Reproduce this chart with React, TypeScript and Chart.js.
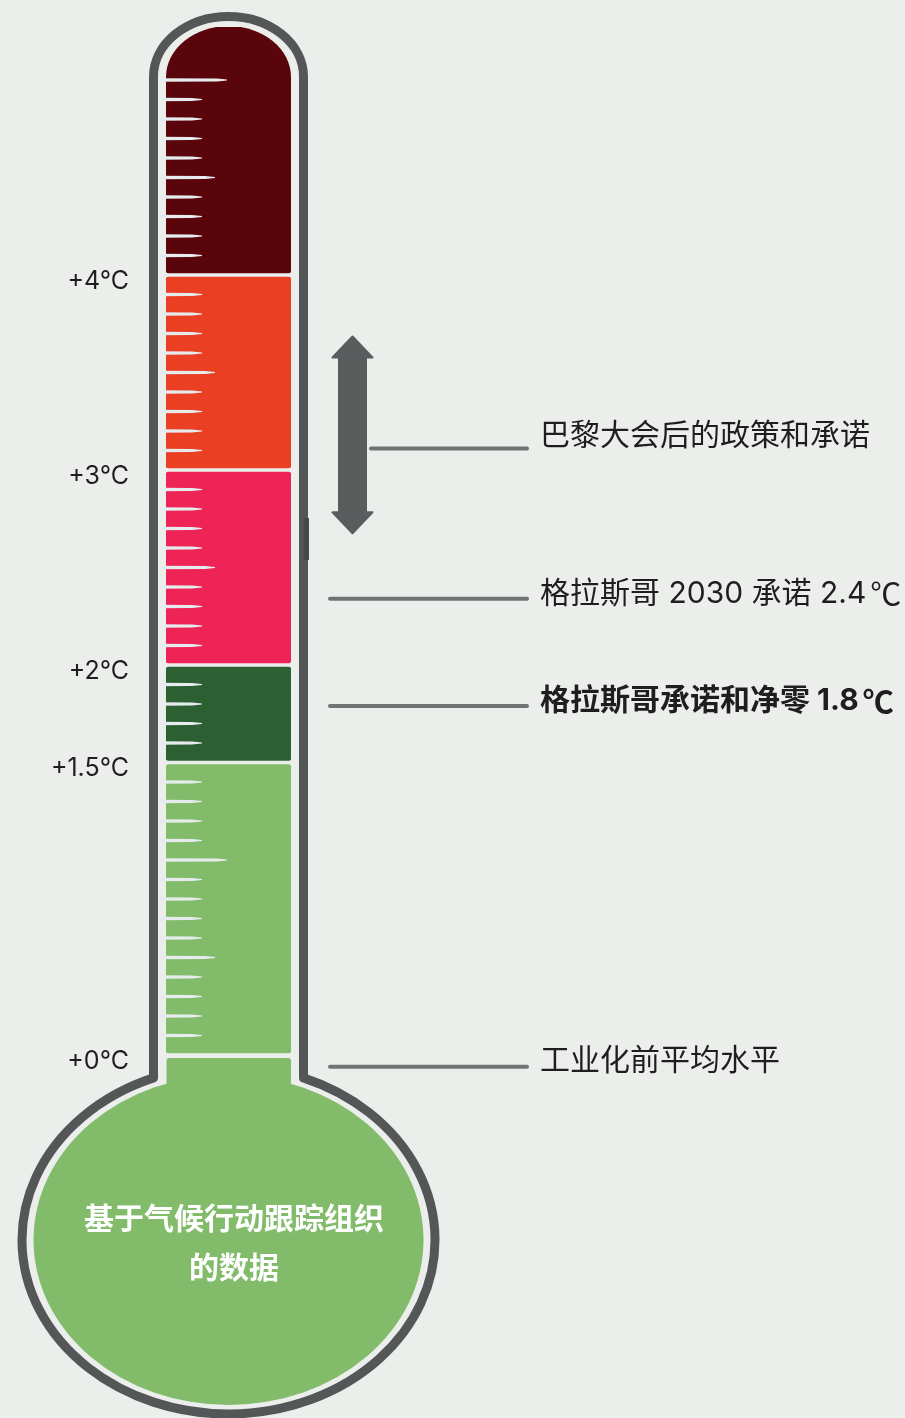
import { useEffect, useRef } from "react";
import { Chart, registerables } from "chart.js";

Chart.register(...registerables);

// ---------- data ----------
const segmentNames = ["+4°C 以上", "+3°C ~ +4°C", "+2°C ~ +3°C", "+1.5°C ~ +2°C", "+0°C ~ +1.5°C"];
const segmentLow = [4, 3, 2, 1.5, 0];
const segmentHigh = [5.28, 4, 3, 2, 1.5];
const segmentColors = ["#5A040C", "#EB3F24", "#EE2356", "#2C5F31", "#82BC6B"];

const scaleLabelValues = [4, 3, 2, 1.5, 0];
const scaleLabelTexts = ["+4°C", "+3°C", "+2°C", "+1.5°C", "+0°C"];

const minorTickStep = 0.1;
const minorTickMax = 5.0;

const noteTexts = [
  "巴黎大会后的政策和承诺",
  "格拉斯哥 2030 承诺 2.4℃",
  "格拉斯哥承诺和净零 1.8℃",
  "工业化前平均水平",
];
const noteValues = [3.11, 2.34, 1.79, -0.06];
const noteBold = [false, false, true, false];

const parisRange = [2.67, 3.69];

const bulbLines = ["基于气候行动跟踪组织", "的数据"];

// ---------- styles ----------
const BG = "#ECEEEC";
const OUTLINE = "#545658";
const ARROW = "#5B5C5E";
const LEADER = "#717375";
const TICK = "#E6ECEE";
const TEXT = "#1E1E1E";
const BULB = "#82BC6B";
const CJK = '"Noto Sans CJK SC"';
const noteDy = [-13, -5, -5, -6];

function drawRuns(ctx: CanvasRenderingContext2D, text: string, x: number, y: number, weight: string) {
  const latin = `${weight}30px Inter, ${CJK}, sans-serif`;
  const cjk = `${weight}31px ${CJK}, sans-serif`;
  const parts = text.split(/(℃)/);
  let cur = x;
  parts.forEach((part) => {
    if (!part) return;
    if (part === "℃") {
      ctx.font = cjk;
      cur += 4;
    } else {
      ctx.font = latin;
    }
    ctx.fillText(part, cur, y);
    cur += ctx.measureText(part).width;
  });
}

const thermoPlugin = {
  id: "thermo",
  beforeDraw(chart: any) {
    const ctx: CanvasRenderingContext2D = chart.ctx;
    const y = chart.scales.y;
    const bar = chart.getDatasetMeta(0).data[0];
    const cx = bar.x;
    const y0 = y.getPixelForValue(0);
    ctx.save();
    ctx.fillStyle = BG;
    ctx.fillRect(0, 0, chart.width, chart.height);

    // outline (tube + bulb)
    const wx = 75;
    const capCy = 76.5;
    const capRy = 60;
    const bcy = y0 + 185;
    const brx = 206.5;
    const bry = 174;
    const ct = Math.acos(wx / brx);
    const joinY = bcy - bry * Math.sin(ct);
    ctx.beginPath();
    ctx.moveTo(cx - wx, joinY);
    ctx.lineTo(cx - wx, capCy);
    ctx.ellipse(cx, capCy, wx, capRy, 0, Math.PI, 2 * Math.PI);
    ctx.lineTo(cx + wx, joinY);
    ctx.ellipse(cx, bcy, brx, bry, 0, -ct, Math.PI + ct);
    ctx.closePath();
    ctx.lineWidth = 9;
    ctx.lineJoin = "round";
    ctx.strokeStyle = OUTLINE;
    ctx.stroke();

    // small darker mark on right wall
    ctx.fillStyle = "#47484A";
    ctx.fillRect(cx + wx, 518, 5.5, 42);

    // bulb fill
    ctx.fillStyle = BULB;
    ctx.beginPath();
    ctx.ellipse(cx, bcy, 195, 165, 0, 0, 2 * Math.PI);
    ctx.fill();
    ctx.beginPath();
    (ctx as any).roundRect(cx - 62, y0 + 3, 124.5, 70, 3);
    ctx.fill();
    ctx.restore();
  },
  beforeDatasetsDraw(chart: any) {
    const ctx: CanvasRenderingContext2D = chart.ctx;
    const bar = chart.getDatasetMeta(0).data[0];
    const cx = bar.x;
    const rx = 62.5;
    const ry = 51;
    const top = 26;
    ctx.save();
    ctx.beginPath();
    ctx.moveTo(cx - rx, chart.height);
    ctx.lineTo(cx - rx, top + ry);
    ctx.ellipse(cx, top + ry, rx, ry, 0, Math.PI, 2 * Math.PI);
    ctx.lineTo(cx + rx, chart.height);
    ctx.closePath();
    ctx.clip();
  },
  afterDatasetsDraw(chart: any) {
    const ctx: CanvasRenderingContext2D = chart.ctx;
    ctx.restore();
    const y = chart.scales.y;
    const bar = chart.getDatasetMeta(0).data[0];
    const cx = bar.x;
    const y0 = y.getPixelForValue(0);
    const left = cx - 62.5;
    ctx.save();

    // minor ticks
    ctx.fillStyle = TICK;
    const n = Math.round(minorTickMax / minorTickStep);
    for (let k = 1; k <= n; k++) {
      const v = k * minorTickStep;
      if (segmentLow.some((b) => Math.abs(b - v) < 1e-6)) continue;
      const tenth = k % 10 === 0;
      const half = k % 5 === 0;
      const len = tenth ? 61 : half ? 49 : 36;
      const p = y.getPixelForValue(v);
      const x0 = left - 6;
      const x1 = left + len;
      ctx.beginPath();
      ctx.moveTo(x0, p - 1.7);
      ctx.lineTo(x1 - 10, p - 1.4);
      ctx.lineTo(x1, p - 0.6);
      ctx.lineTo(x1, p + 0.6);
      ctx.lineTo(x1 - 10, p + 1.4);
      ctx.lineTo(x0, p + 1.7);
      ctx.closePath();
      ctx.fill();
    }

    // scale labels
    ctx.fillStyle = TEXT;
    ctx.font = '25px Inter, "Noto Sans", sans-serif';
    ctx.textAlign = "right";
    ctx.textBaseline = "middle";
    scaleLabelValues.forEach((v, i) => {
      ctx.fillText(scaleLabelTexts[i], 129, y.getPixelForValue(v) + 6);
    });

    // Paris double arrow
    const ax = 352.5;
    const at = y.getPixelForValue(parisRange[1]);
    const ab = y.getPixelForValue(parisRange[0]);
    const sh = 13.5;
    const hh = 20;
    const hl = 22;
    ctx.fillStyle = ARROW;
    ctx.strokeStyle = ARROW;
    ctx.lineWidth = 2;
    ctx.lineJoin = "round";
    ctx.beginPath();
    ctx.moveTo(ax, at + 1);
    ctx.lineTo(ax + hh, at + hl);
    ctx.lineTo(ax + sh, at + hl);
    ctx.lineTo(ax + sh, ab - hl);
    ctx.lineTo(ax + hh, ab - hl);
    ctx.lineTo(ax, ab - 1);
    ctx.lineTo(ax - hh, ab - hl);
    ctx.lineTo(ax - sh, ab - hl);
    ctx.lineTo(ax - sh, at + hl);
    ctx.lineTo(ax - hh, at + hl);
    ctx.closePath();
    ctx.fill();
    ctx.stroke();

    // leader lines and notes
    ctx.strokeStyle = LEADER;
    ctx.lineWidth = 4;
    ctx.lineCap = "round";
    ctx.textAlign = "left";
    ctx.textBaseline = "middle";
    noteValues.forEach((v, i) => {
      const p = y.getPixelForValue(v);
      const xs = i === 0 ? ax + sh + 5 : 330;
      ctx.beginPath();
      ctx.moveTo(xs, p);
      ctx.lineTo(527, p);
      ctx.stroke();
      ctx.fillStyle = TEXT;
      drawRuns(ctx, noteTexts[i], 540, p + noteDy[i], noteBold[i] ? "bold " : "");
    });

    // bulb text
    ctx.fillStyle = "#FFFFFF";
    ctx.font = `bold 30px ${CJK}, sans-serif`;
    ctx.textAlign = "center";
    bulbLines.forEach((t, i) => {
      ctx.fillText(t, cx + 5.5, y0 + 163 + i * 49);
    });
    ctx.restore();
  },
};

export default function App() {
  const ref = useRef<HTMLCanvasElement>(null);
  useEffect(() => {
    document.body.style.margin = "0";
    document.body.style.background = BG;
    const chart = new Chart(ref.current as HTMLCanvasElement, {
      type: "bar",
      data: {
        labels: ["温度"],
        datasets: segmentNames.map((name, i) => ({
          label: name,
          data: [[segmentLow[i], segmentHigh[i]]] as any,
          backgroundColor: segmentColors[i],
          borderColor: BG,
          borderWidth: 2,
          borderSkipped: false,
          borderRadius: 5,
          barThickness: 129,
          grouped: false,
        })),
      },
      options: {
        responsive: false,
        animation: false,
        layout: { padding: { left: 100, right: 548, top: 21.5, bottom: 70.5 } },
        plugins: { legend: { display: false }, tooltip: { enabled: false } },
        scales: {
          x: { display: false },
          y: { display: false, min: -1.5, max: 5.3 },
        },
      },
      plugins: [thermoPlugin],
    });
    return () => chart.destroy();
  }, []);
  return (
    <div style={{ position: "relative", width: 905, height: 1418, overflow: "hidden", background: BG }}>
      <canvas ref={ref} width={905} height={1418} style={{ display: "block", width: 905, height: 1418 }} />
    </div>
  );
}
